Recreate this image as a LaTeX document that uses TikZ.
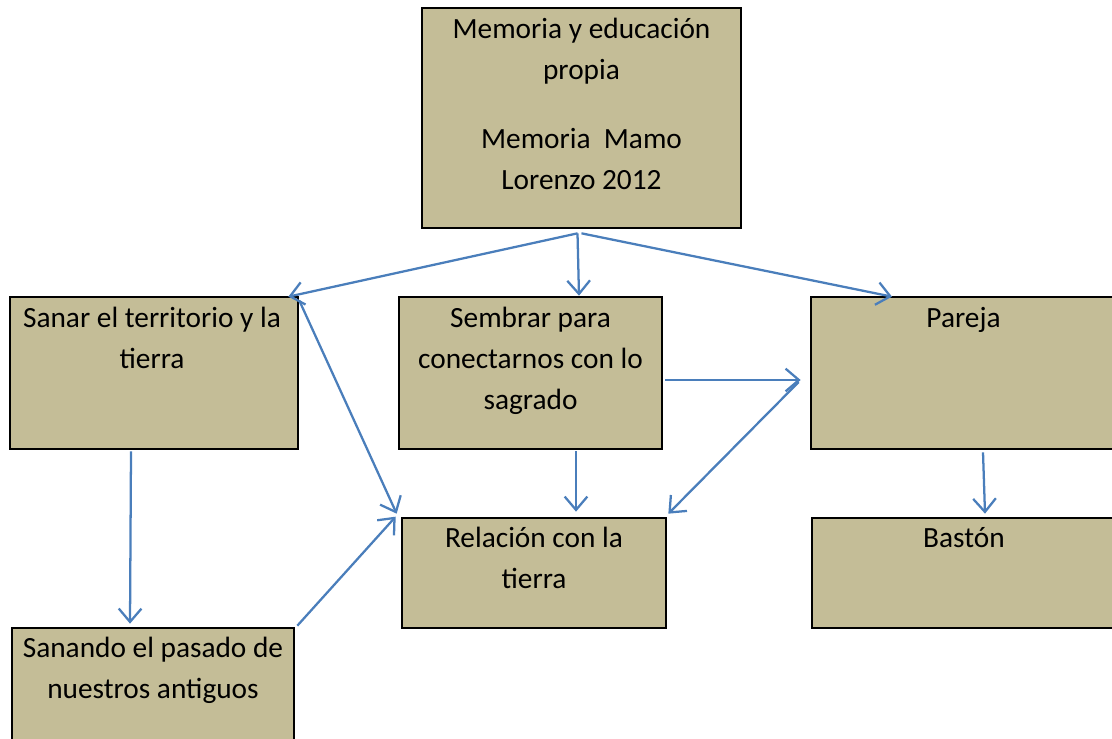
\documentclass[tikz,border=0pt]{standalone}
\usepackage{fontspec}
\setmainfont{Carlito}
\usetikzlibrary{arrows.meta,calc}
\definecolor{boxtan}{RGB}{196,189,151}
\definecolor{arrowblue}{RGB}{74,126,187}

\begin{document}
\begin{tikzpicture}[x=0.75pt,y=-0.75pt,
	box/.style={draw=black, line width=2pt, fill=boxtan, inner sep=0pt},
	txt/.style={anchor=base, inner sep=0pt, align=center, font=\fontsize{22}{30.75}\selectfont},
	arr/.style={-{Straight Barb[length=10pt,width=17pt]}, draw=arrowblue, line width=1.7pt}]
	\useasboundingbox (0,0) rectangle (1112,738);
	\node[box, minimum width=239.25pt, minimum height=165pt] (memoria) at (581.5,118) {};
	\node[box, minimum width=216pt, minimum height=114pt] (sanar) at (154,373) {};
	\node[box, minimum width=197.25pt, minimum height=114pt] (sembrar) at (530.5,373) {};
	\node[box, minimum width=243.75pt, minimum height=114pt] (pareja) at (973.5,373) {};
	\node[box, minimum width=198pt, minimum height=82.5pt] (relacion) at (534,573) {};
	\node[box, minimum width=243pt, minimum height=82.5pt] (baston) at (974,573) {};
	\node[box, minimum width=211.5pt, minimum height=121.5pt] (sanando) at (153,709) {};
	% base = baseline of the last line
	\node[txt] (memoriaT) at ($(memoria.north)+(0,183)$) {Memoria y educación\\propia\\[21pt]Memoria\ \ Mamo\\Lorenzo 2012};
	\node[txt] (sanarT) at ($(sanar.north)+(-2,73)$) {Sanar el territorio y la\\tierra};
	\node[txt] (sembrarT) at ($(sembrar.north)+(0,114)$) {Sembrar para\\conectarnos con lo\\sagrado};
	\node[txt] (parejaT) at ($(pareja.north)+(-10,32)$) {Pareja};
	\node[txt] (relacionT) at ($(relacion.north)+(0,72)$) {Relación con la\\tierra};
	\node[txt] (bastonT) at ($(baston.north)+(-10,31)$) {Bastón};
	\node[txt] (sanandoT) at ($(sanando.north)+(0,72)$) {Sanando el pasado de\\nuestros antiguos};

	\draw[arr] ($(memoria.south)+(-4,4)$) -- ($(sanar.north east)+(-11,1)$);
	\draw[arr] ($(memoria.south)+(-4,4)$) -- ($(sembrar.north)+(48.5,0)$);
	\draw[arr] ($(memoria.south)+(0,4)$) -- ($(pareja.north)+(-81.5,1)$);
	\draw[arr] ($(sanar.south)+(-23,1)$) -- ($(sanando.north)+(-23,-3)$);
	\draw[arr] ($(sanar.north east)+(0,5)$) -- ($(relacion.north west)+(-4,-3)$);
	\draw[arr] ($(sanando.north east)+(2,-1)$) -- ($(relacion.north west)+(-5,0)$);
	\draw[arr] ($(sembrar.south)+(45.5,1)$) -- ($(relacion.north)+(42,-5)$);
	\draw[arr] ($(sembrar.east)+(2,7)$) -- ($(pareja.west)+(-9,7)$);
	\draw[arr] ($(pareja.west)+(-11,9)$) -- ($(relacion.north east)+(1,-3)$);
	\draw[arr] ($(pareja.south)+(9.5,2)$) -- ($(baston.north)+(11,-3)$);
\end{tikzpicture}
\end{document}
